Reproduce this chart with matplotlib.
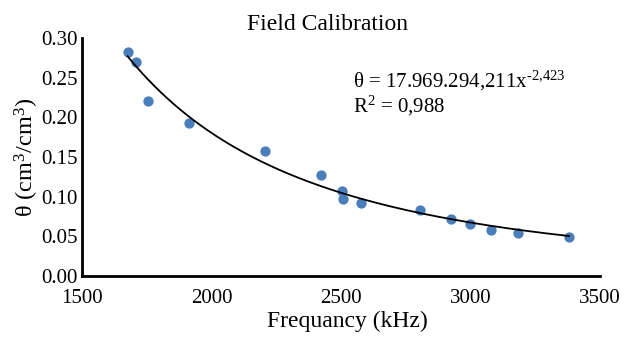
import numpy as np
import matplotlib
matplotlib.use('Agg')
import matplotlib.pyplot as plt

plt.rcParams['font.family'] = ['Liberation Serif', 'DejaVu Serif']
plt.rcParams['mathtext.fontset'] = 'custom'
plt.rcParams['mathtext.rm'] = 'Liberation Serif'
plt.rcParams['mathtext.it'] = 'Liberation Serif:italic'

# frequency (kHz) and water content
freq = [1676, 1707, 1756, 1914, 2208, 2424, 2505, 2508, 2576,
        2804, 2926, 2998, 3079, 3185, 3381]
theta = [0.282, 0.269, 0.221, 0.1925, 0.158, 0.127, 0.107, 0.097, 0.092,
         0.083, 0.0715, 0.0656, 0.058, 0.0546, 0.0496]

# power trendline theta = a * x^b
coef_a = 17969294.211
coef_b = -2.423

fig = plt.figure(figsize=(6.36, 3.38), dpi=100)
ax = fig.add_axes([0.129, 0.183, 0.814, 0.705])

ax.scatter(freq, theta, s=55, color='#4A7EBB', zorder=2, linewidths=0)
xs = np.linspace(min(freq), max(freq), 200)
ax.plot(xs, coef_a * xs ** coef_b, color='black', lw=1.3, zorder=3)

ax.set_xlim(1500, 3500)
ax.set_ylim(0, 0.30)
ax.set_xticks([1500, 2000, 2500, 3000, 3500])
ax.set_yticks(np.arange(0, 0.301, 0.05))
ax.yaxis.set_major_formatter(matplotlib.ticker.FormatStrFormatter('%.2f'))
ax.tick_params(length=0, labelsize=15)
ax.tick_params(axis='x', pad=9)
ax.tick_params(axis='y', pad=3)

for s in ['top', 'right']:
    ax.spines[s].set_visible(False)
for s in ['left', 'bottom']:
    ax.spines[s].set_linewidth(2)

ax.set_title('Field Calibration', fontsize=17, pad=6, x=0.475)
ax.set_xlabel('Frequancy (kHz)', fontsize=17, labelpad=1)
ax.xaxis.set_label_coords(0.512, -0.145)
ax.set_ylabel(r'θ (cm$\mathregular{^3}$/cm$\mathregular{^3}$)', fontsize=17.5)
ax.yaxis.set_label_coords(-0.079, 0.5)

ax.text(0.523, 0.82, '\u03b8 = 17.969.294,211x$\\mathregular{^{\u20102{,}423}}$',
        transform=ax.transAxes, fontsize=15, va='center')
ax.text(0.523, 0.715, r'R$\mathregular{^2}$ = 0,988',
        transform=ax.transAxes, fontsize=15, va='center')

fig.savefig('out.png', dpi=100)
